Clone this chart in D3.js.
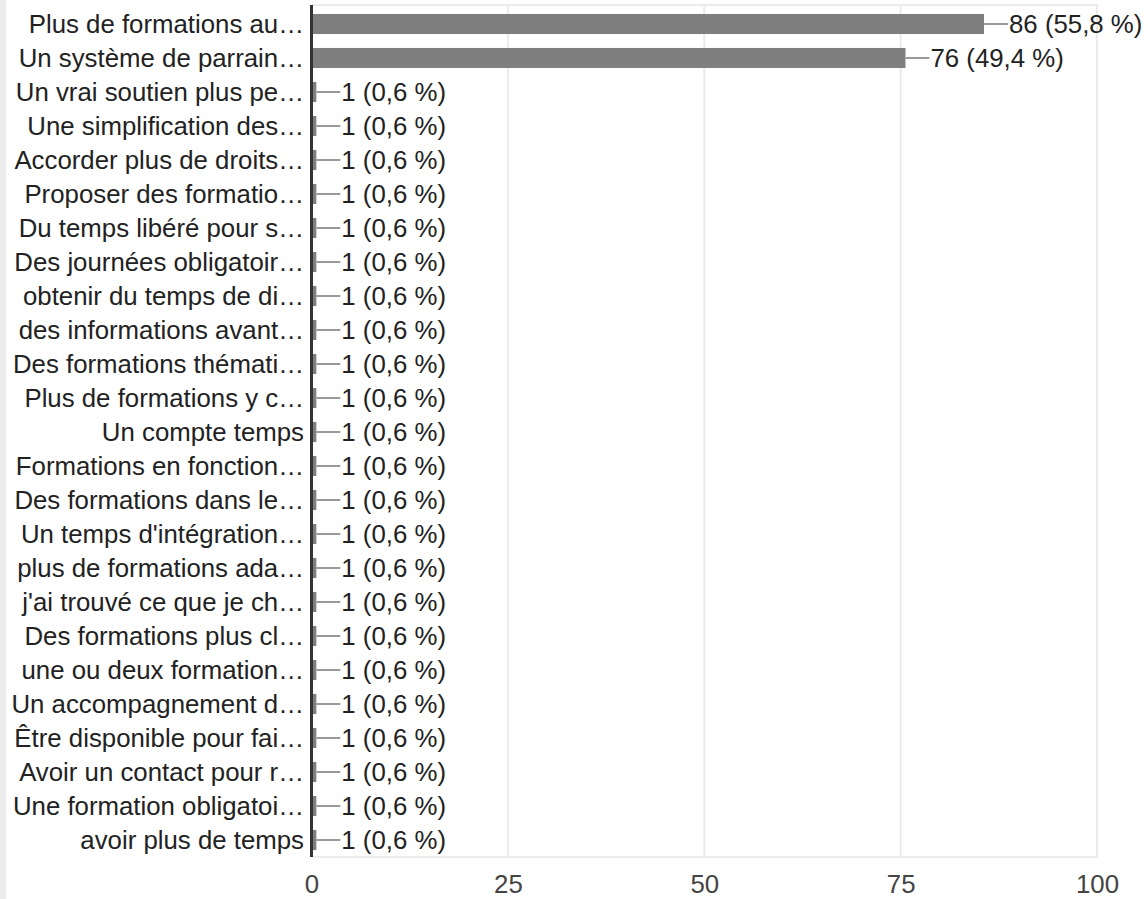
<!DOCTYPE html>
<html lang="fr">
<head>
    <meta charset="UTF-8">
    <title>Réponses</title>
    <script src="https://d3js.org/d3.v7.min.js"></script>
    <style>
        body { margin: 0; background: #fff; }
        svg { display: block; font-family: "Liberation Sans", Arial, sans-serif; }
    </style>
</head>
<body>
<svg width="1148" height="899"></svg>

<script>
    const categories = [
        "Plus de formations au\u2026",
        "Un système de parrain\u2026",
        "Un vrai soutien plus pe\u2026",
        "Une simplification des\u2026",
        "Accorder plus de droits\u2026",
        "Proposer des formatio\u2026",
        "Du temps libéré pour s\u2026",
        "Des journées obligatoir\u2026",
        "obtenir du temps de di\u2026",
        "des informations avant\u2026",
        "Des formations thémati\u2026",
        "Plus de formations y c\u2026",
        "Un compte temps",
        "Formations en fonction\u2026",
        "Des formations dans le\u2026",
        "Un temps d'intégration\u2026",
        "plus de formations ada\u2026",
        "j'ai trouvé ce que je ch\u2026",
        "Des formations plus cl\u2026",
        "une ou deux formation\u2026",
        "Un accompagnement d\u2026",
        "Être disponible pour fai\u2026",
        "Avoir un contact pour r\u2026",
        "Une formation obligatoi\u2026",
        "avoir plus de temps"
    ];
    const counts = [86, 76, 1, 1, 1, 1, 1, 1, 1, 1, 1, 1, 1, 1, 1, 1, 1, 1, 1, 1, 1, 1, 1, 1, 1];
    const percents = ["55,8", "49,4", "0,6", "0,6", "0,6", "0,6", "0,6", "0,6", "0,6", "0,6",
        "0,6", "0,6", "0,6", "0,6", "0,6", "0,6", "0,6", "0,6", "0,6", "0,6",
        "0,6", "0,6", "0,6", "0,6", "0,6"];
    const xTicks = [0, 25, 50, 75, 100];

    const data = categories.map((c, i) => ({ name: c, count: counts[i], pct: percents[i] }));

    const svg = d3.select("svg");
    const plotTop = 7, plotBottom = 857, plotLeft = 311.5, plotRight = 1097;
    const fontSize = 25.8;

    // grey strip down the left edge
    svg.append("rect").attr("x", 0).attr("y", 0).attr("width", 6).attr("height", 899)
        .attr("fill", "#ececec");

    const x = d3.scaleLinear().domain([0, 100]).range([plotLeft, plotRight]);
    const y = d3.scaleBand().domain(categories).range([plotTop, plotBottom]).paddingInner(0.41).paddingOuter(0.205);

    // frame lines and gridlines
    svg.append("g").selectAll("line").data(xTicks.slice(1)).enter().append("line")
        .attr("x1", d => x(d)).attr("x2", d => x(d))
        .attr("y1", 5).attr("y2", plotBottom)
        .attr("stroke", "#ebebeb").attr("stroke-width", 2);
    svg.append("line").attr("x1", plotLeft).attr("x2", plotRight + 1).attr("y1", 5).attr("y2", 5)
        .attr("stroke", "#ebebeb").attr("stroke-width", 2);
    svg.append("line").attr("x1", plotLeft).attr("x2", plotRight + 1).attr("y1", plotBottom).attr("y2", plotBottom)
        .attr("stroke", "#ebebeb").attr("stroke-width", 2);

    // bottom axis labels
    const xAxis = svg.append("g")
        .attr("transform", `translate(0,${plotBottom})`)
        .call(d3.axisBottom(x).tickValues(xTicks).tickSize(0));
    xAxis.select(".domain").remove();
    xAxis.selectAll("text")
        .attr("y", 36).attr("dy", null)
        .attr("font-family", "Liberation Sans, Arial, sans-serif")
        .attr("font-size", fontSize).attr("fill", "#444");

    // category labels
    svg.append("g").selectAll("text").data(data).enter().append("text")
        .attr("x", 304)
        .attr("y", d => y(d.name) + y.bandwidth() / 2)
        .attr("dy", "0.36em")
        .attr("text-anchor", "end")
        .attr("font-size", fontSize)
        .attr("fill", "#222")
        .text(d => d.name);

    // bars
    svg.append("g").selectAll("rect").data(data).enter().append("rect")
        .attr("x", x(0))
        .attr("y", d => y(d.name))
        .attr("width", d => x(d.count) - x(0) - 3)
        .attr("height", y.bandwidth())
        .attr("fill", "#7f7f7f");

    // leader lines
    svg.append("g").selectAll("line").data(data).enter().append("line")
        .attr("x1", d => x(d.count) - 3)
        .attr("x2", d => x(d.count) + 21)
        .attr("y1", d => y(d.name) + y.bandwidth() / 2)
        .attr("y2", d => y(d.name) + y.bandwidth() / 2)
        .attr("stroke", "#999").attr("stroke-width", 2);

    // value labels
    svg.append("g").selectAll("text").data(data).enter().append("text")
        .attr("x", d => x(d.count) + 22)
        .attr("y", d => y(d.name) + y.bandwidth() / 2)
        .attr("dy", "0.36em")
        .attr("font-size", fontSize)
        .attr("fill", "#222")
        .text(d => `${d.count} (${d.pct} %)`);

    // zero axis
    svg.append("line").attr("x1", x(0)).attr("x2", x(0)).attr("y1", 5).attr("y2", plotBottom)
        .attr("stroke", "#333").attr("stroke-width", 3);
</script>
</body>
</html>
